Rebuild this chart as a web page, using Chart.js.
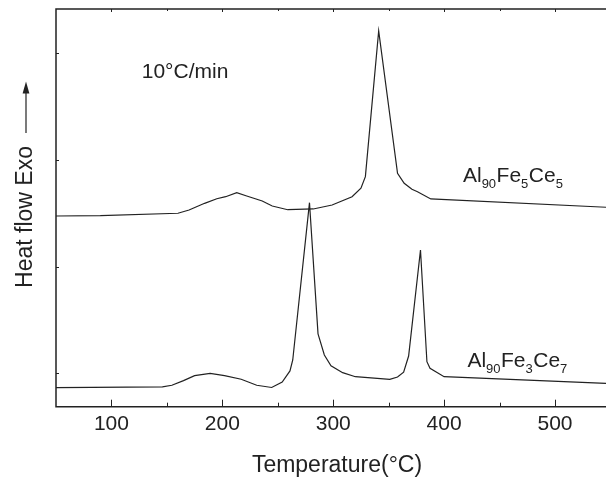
<!DOCTYPE html>
<html>
<head>
<meta charset="utf-8">
<script src="https://cdn.jsdelivr.net/npm/chart.js@4.4.0/dist/chart.umd.min.js"></script>
<style>
  html, body { margin: 0; padding: 0; background: #fff; }
  #wrap { width: 606px; height: 478px; }
</style>
</head>
<body>
<div id="wrap"><canvas id="dsc" width="606" height="478"></canvas></div>
<script>
// DSC curves, temperature in °C, heat flow in arbitrary units (one unit per y tick)
const upperTemp = [50, 90, 160, 170, 184, 195, 203, 213, 222, 236, 245, 259, 282, 299, 317, 325, 329, 341, 358, 364, 371, 376, 388, 546];
const upperFlow = [1.474, 1.477, 1.500, 1.530, 1.593, 1.636, 1.655, 1.693, 1.662, 1.615, 1.568, 1.533, 1.540, 1.577, 1.655, 1.734, 1.843, 3.208, 1.874, 1.781, 1.724, 1.702, 1.634, 1.556];

const lowerTemp = [50, 146, 154.5, 165, 175, 189, 202, 217, 231, 244.5, 254, 261, 263.5, 278.6, 286.3, 292, 298, 308.5, 320, 351, 358, 363.5, 368, 378.7, 384.5, 387.3, 400, 546];
const lowerFlow = [-0.135, -0.128, -0.112, -0.069, -0.022, 0.000, -0.022, -0.056, -0.112, -0.133, -0.082, 0.022, 0.125, 1.599, 0.370, 0.172, 0.071, 0.006, -0.032, -0.056, -0.035, 0.010, 0.162, 1.156, 0.109, 0.047, -0.032, -0.094];

const xMajorTicks = [100, 200, 300, 400, 500];
const xMinorTicks = [150, 250, 350, 450];
const yTicks = [0, 1, 2, 3];

const FONT = '"Liberation Sans", Arial, Helvetica, sans-serif';
const INK = "#222";

// label anchors in data units (temperature, heat flow)
const notes = [
  { x: 127.3, y: 2.768, parts: [["10°C/min", 0]] },
  { x: 417, y: 1.796, parts: [["Al", 0], ["90", 1], ["Fe", 0], ["5", 1], ["Ce", 0], ["5", 1]] },
  { x: 421, y: 0.062, parts: [["Al", 0], ["90", 1], ["Fe", 0], ["3", 1], ["Ce", 0], ["7", 1]] },
];

function toPoints(xs, ys) {
  return xs.map((x, i) => ({ x, y: ys[i] }));
}

function seg(ctx, x1, y1, x2, y2) {
  ctx.beginPath();
  ctx.moveTo(x1, y1);
  ctx.lineTo(x2, y2);
  ctx.stroke();
}

const framePlugin = {
  id: "frame",
  afterDraw(chart) {
    const { ctx, chartArea: a, scales: { x, y } } = chart;
    ctx.save();
    ctx.strokeStyle = INK;
    ctx.lineWidth = 1.5;
    ctx.beginPath();
    ctx.moveTo(a.right, a.top);
    ctx.lineTo(a.left, a.top);
    ctx.lineTo(a.left, a.bottom);
    ctx.lineTo(a.right, a.bottom);
    ctx.stroke();

    ctx.lineWidth = 1;
    xMajorTicks.forEach(v => {
      const px = Math.round(x.getPixelForValue(v)) + 0.5;
      seg(ctx, px, a.bottom, px, a.bottom - 7);
      seg(ctx, px, a.top, px, a.top + 3);
    });
    xMinorTicks.forEach(v => {
      const px = Math.round(x.getPixelForValue(v)) + 0.5;
      seg(ctx, px, a.bottom, px, a.bottom - 4);
      seg(ctx, px, a.top, px, a.top + 2);
    });
    yTicks.forEach(v => {
      const py = Math.round(y.getPixelForValue(v)) + 0.5;
      seg(ctx, a.left, py, a.left + 3, py);
    });

    // axis titles
    ctx.fillStyle = INK;
    ctx.font = "23px " + FONT;
    ctx.textAlign = "center";
    ctx.textBaseline = "alphabetic";
    ctx.fillText("Temperature(°C)", (a.left + a.right) / 2 + 6, 471.5);

    ctx.save();
    ctx.translate(32, 217);
    ctx.rotate(-Math.PI / 2);
    ctx.fillText("Heat flow Exo", 0, 0);
    ctx.restore();

    // arrow
    ctx.lineWidth = 1.2;
    seg(ctx, 26, 133, 26, 90);
    ctx.beginPath();
    ctx.moveTo(26, 81.5);
    ctx.lineTo(22.6, 93.5);
    ctx.lineTo(29.4, 93.5);
    ctx.closePath();
    ctx.fill();

    // text notes with subscripts
    ctx.textAlign = "left";
    notes.forEach(n => {
      let px = x.getPixelForValue(n.x);
      const py = y.getPixelForValue(n.y);
      n.parts.forEach(([txt, sub]) => {
        ctx.font = (sub ? "13px " : "21px ") + FONT;
        ctx.fillText(txt, px, sub ? py + 6.5 : py);
        px += ctx.measureText(txt).width + (sub ? 0.5 : 0);
      });
    });
    ctx.restore();
  }
};

new Chart(document.getElementById("dsc"), {
  type: "line",
  data: {
    datasets: [
      { label: "Al90Fe5Ce5", data: toPoints(upperTemp, upperFlow) },
      { label: "Al90Fe3Ce7", data: toPoints(lowerTemp, lowerFlow) },
    ],
  },
  options: {
    responsive: false,
    animation: false,
    devicePixelRatio: 1,
    layout: { padding: { left: 56, top: 9, right: 0, bottom: 0 } },
    elements: {
      line: { borderColor: INK, borderWidth: 1.2, tension: 0 },
      point: { radius: 0 },
    },
    plugins: { legend: { display: false }, tooltip: { enabled: false } },
    scales: {
      x: {
        type: "linear",
        min: 50,
        max: 546,
        afterBuildTicks: axis => { axis.ticks = xMajorTicks.map(v => ({ value: v })); },
        afterFit: axis => { axis.height = 71.3; },
        grid: { display: false, drawTicks: false },
        border: { display: false },
        ticks: { color: INK, font: { family: FONT, size: 21 }, padding: 5, maxRotation: 0 },
      },
      y: {
        type: "linear",
        display: false,
        min: -0.313,
        max: 3.414,
      },
    },
  },
  plugins: [framePlugin],
});
</script>
</body>
</html>
